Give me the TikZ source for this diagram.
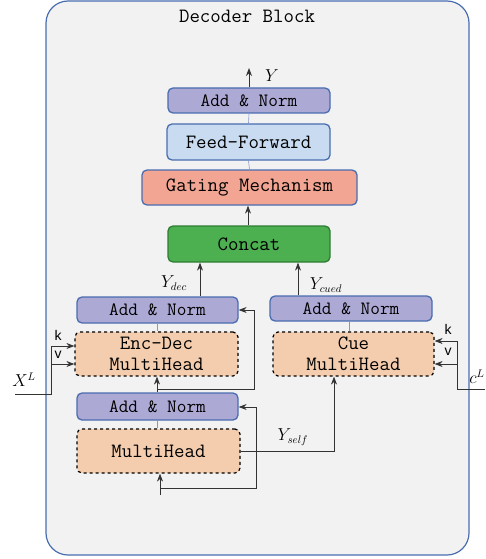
\documentclass[tikz,border=0pt]{standalone}
\usepackage{fontspec}
\newfontfamily\lblfont{Liberation Sans}
\usetikzlibrary{arrows.meta}
\definecolor{bgc}{HTML}{F2F2F2}
\definecolor{bdr}{HTML}{4A6DB0}
\definecolor{anf}{HTML}{ADA9D5}
\definecolor{fff}{HTML}{C8DBF0}
\definecolor{gmf}{HTML}{F2A593}
\definecolor{ccf}{HTML}{4CAF50}
\definecolor{ccb}{HTML}{2E7D32}
\definecolor{mhf}{HTML}{F4CDAE}
\definecolor{lnc}{HTML}{333333}
\tikzset{
  blk/.style={draw=bdr,line width=1.3pt,rounded corners=5pt,inner sep=0pt,font=\ttfamily\fontsize{20.3}{22}\selectfont},
  an/.style={blk,fill=anf,minimum width=161pt,minimum height=26pt,font=\ttfamily\fontsize{18.8}{20}\selectfont},
  mh/.style={blk,draw=black,dashed,line width=1.2pt,fill=mhf,minimum width=162pt,minimum height=44pt,align=center,font=\ttfamily\fontsize{20.3}{21}\selectfont},
  arr/.style={draw=lnc,line width=0.8pt,-{Stealth[length=8pt,width=6pt]}},
  ln/.style={draw=lnc,line width=0.8pt},
  thin/.style={draw=bdr!70,line width=0.6pt},
  ml/.style={font=\fontsize{16}{18}\selectfont},
  kv/.style={font=\lblfont\fontsize{14}{16}\selectfont}
}
\begin{document}
\begin{tikzpicture}[x=1pt,y=-1pt]
\useasboundingbox (0,0) rectangle (485,559);
\draw[bdr,fill=bgc,line width=1.2pt,rounded corners=22pt] (46,1) rectangle (469,555);
\node[font=\ttfamily\fontsize{20.3}{22}\selectfont] (title) at (247,16) {Decoder Block};
% top stack
\node[an,minimum width=162pt,minimum height=25pt] (an0) at (249,100.5) {Add \& Norm};
\node[blk,fill=fff,minimum width=163pt,minimum height=36pt] (ff) at (248.5,142) {Feed-Forward};
\node[blk,fill=gmf,minimum width=215pt,minimum height=35pt] (gm) at (249.5,187.5) {Gating Mechanism};
\node[blk,draw=ccb,fill=ccf,minimum width=162pt,minimum height=36pt] (cc) at (249,244) {Concat};
% left stack
\node[an] (an1) at (157.5,310) {Add \& Norm};
\node[mh,minimum width=163pt] (ed) at (156.5,354) {Enc-Dec\\MultiHead};
\node[an,minimum height=27pt] (an2) at (157.5,406.5) {Add \& Norm};
\node[mh,minimum width=163pt] (mh) at (158.5,451) {MultiHead};
% right stack
\node[an,minimum width=162pt,minimum height=25pt] (an3) at (351,308.5) {Add \& Norm};
\node[mh,minimum width=161pt] (cue) at (353.5,354) {Cue\\MultiHead};
% coordinates
\coordinate (yout) at (249,68);
\coordinate (inb) at (160,495);
\coordinate (xl) at (15,394);
\coordinate (cl) at (485,389);
% thin links
\draw[thin] (an0.south) -- (ff.north);
\draw[thin] (ff.south) -- (gm.north);
\draw[thin] (an1.south -| 157,0) -- (ed.north -| 157,0);
\draw[thin] (an2.south -| 157,0) -- (mh.north -| 157,0);
\draw[thin] (an3.south -| 349,0) -- (cue.north -| 349,0);
% top arrows
\draw[arr] (an0.north) -- (yout);
\node[ml] (ylab) at (272,76) {$Y$};
\draw[arr] (cc.north -| 248,0) -- (gm.south -| 248,0);
\draw[arr] (an1.north -| 200,0) -- (cc.south -| 200,0);
\node[ml] (ydec) at (174,283) {$Y_{dec}$};
\draw[arr] (an3.north -| 298,0) -- (cc.south -| 298,0);
\node[ml] (ycued) at (326,285) {$Y_{cued}$};
% input and residuals
\draw[arr] (inb) -- (mh.south -| inb);
\draw[arr] (160,488) -- (256,488) -- (256,407) -- (an2.east |- 0,407);
\draw[arr] (an2.north -| 157,0) -- (ed.south -| 157,0);
\draw[arr] (157,389) -- (254,389) -- (254,310) -- (an1.east |- 0,310);
% self to cue
\draw[arr] (mh.east) -- (334,451) -- (cue.south -| 334,0);
\node[ml] (yself) at (293,437) {$Y_{self}$};
% X^L
\draw[arr] (xl) -- (51,394) -- (51,346) -- (ed.west |- 0,346);
\draw[arr] (51,364) -- (ed.west |- 0,364);
\node[ml] (xlab) at (24,380) {$X^L$};
\node[kv] (k1) at (58,335) {k};
\node[kv] (v1) at (58,355) {v};
% c^L
\draw[arr] (cl) -- (457,389) -- (457,341) -- (cue.east |- 0,341);
\draw[arr] (457,364) -- (cue.east |- 0,364);
\node[ml] (clab) at (477,377) {$c^L$};
\node[kv] (k2) at (448,329) {k};
\node[kv] (v2) at (448,352) {v};
\end{tikzpicture}
\end{document}
